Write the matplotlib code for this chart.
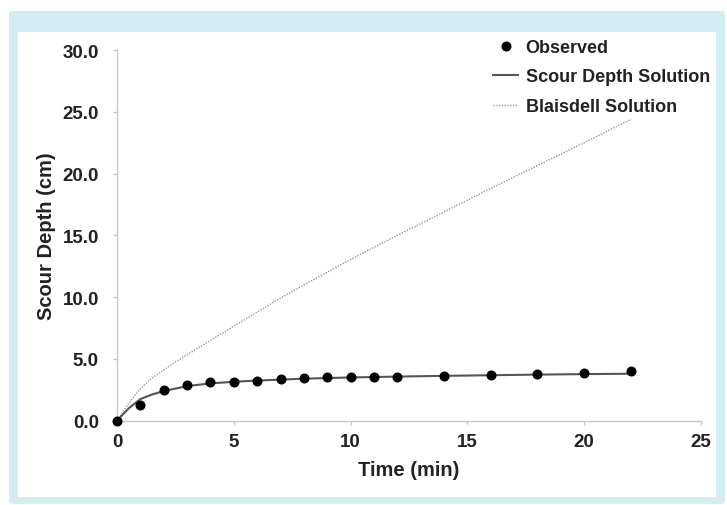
import matplotlib
matplotlib.use("Agg")
import matplotlib.pyplot as plt
from matplotlib.patches import FancyBboxPatch, Rectangle

# observed scour depth (cm) against time (min)
obs_time = [0, 1, 2, 3, 4, 5, 6, 7, 8, 9, 10, 11, 12, 14, 16, 18, 20, 22]
obs_depth = [0.0, 1.28, 2.45, 2.88, 3.12, 3.17, 3.25, 3.38, 3.45, 3.52,
             3.57, 3.57, 3.57, 3.65, 3.72, 3.80, 3.82, 4.05]

# scour depth solution
sol_time = [0, 0.5, 1, 1.5, 2, 3, 4, 5, 6, 8, 10, 12, 14, 16, 18, 20, 22]
sol_depth = [0.0, 1.0, 1.75, 2.12, 2.40, 2.80, 3.02, 3.15, 3.25, 3.40,
             3.50, 3.57, 3.63, 3.68, 3.73, 3.77, 3.80]

# Blaisdell solution
bl_time = [0, 0.5, 1, 1.5, 2.5, 4, 5.4, 6.8, 8.2, 10.3, 12, 14, 16, 18, 20, 22]
bl_depth = [0.0, 1.4, 2.6, 3.45, 4.75, 6.5, 8.1, 9.7, 11.2, 13.35, 15.0,
            16.9, 18.8, 20.65, 22.5, 24.4]

W, H = 727, 506
fig = plt.figure(figsize=(W / 100, H / 100), dpi=100)

# light blue frame around the chart
frame = FancyBboxPatch((9 / W, 1 - 505 / H), 716 / W, 493 / H,
                       boxstyle="round,pad=0,rounding_size=0.006",
                       transform=fig.transFigure, facecolor="#d4edf2",
                       edgecolor="none", zorder=-2)
inner = Rectangle((18 / W, 1 - 498 / H), 698 / W, 465 / H,
                  transform=fig.transFigure, facecolor="white",
                  edgecolor="none", zorder=-1)
fig.patches.extend([frame, inner])

x0, x1 = 117, 701
y0, y1 = 421.7, 51
ax = fig.add_axes([x0 / W, 1 - y0 / H, (x1 - x0) / W, (y0 - y1) / H])
ax.set_facecolor("none")

ax.plot(bl_time, bl_depth, color="#999999", lw=1.0, ls=(0, (1, 1)),
        label="Blaisdell Solution", zorder=2)
ax.plot(sol_time, sol_depth, color="#555555", lw=1.5,
        label="Scour Depth Solution", zorder=3)
ax.plot(obs_time, obs_depth, "o", color="black", ms=6.2,
        label="Observed", zorder=4, clip_on=False)

ax.set_xlim(0, 25)
ax.set_ylim(0, 30)
ax.set_xticks([0, 5, 10, 15, 20, 25])
ax.set_yticks([0, 5, 10, 15, 20, 25, 30])
ax.set_yticklabels([f"{v:.1f}" for v in ax.get_yticks()])

for s in ["top", "right"]:
    ax.spines[s].set_visible(False)
for s in ["left", "bottom"]:
    ax.spines[s].set_color("#c8c8c8")
    ax.spines[s].set_linewidth(1.0)

ax.tick_params(axis="both", direction="out", length=3, width=1,
               color="#c8c8c8", labelcolor="#222222", labelsize=13.5)
ax.tick_params(axis="y", pad=10)
ax.tick_params(axis="x", pad=6)
for lab in ax.get_xticklabels() + ax.get_yticklabels():
    lab.set_fontfamily("Liberation Sans")
    lab.set_fontweight("bold")

ax.set_xlabel("Time (min)", fontsize=14.5, fontweight="bold",
              family="Liberation Sans", color="#222222")
ax.set_ylabel("Scour Depth (cm)", fontsize=14.5, fontweight="bold",
              family="Liberation Sans", color="#222222")
ax.xaxis.set_label_coords(0.5, -0.105)
ax.yaxis.set_label_coords(-0.105, 0.5)

handles, labels = ax.get_legend_handles_labels()
order = [2, 1, 0]
leg = ax.legend([handles[i] for i in order], [labels[i] for i in order],
                loc="upper left", bbox_to_anchor=(493 / W, 1 - 40 / H),
                bbox_transform=fig.transFigure, frameon=False,
                borderpad=0, borderaxespad=0, handlelength=1.4,
                handletextpad=0.4, labelspacing=0.69,
                prop={"family": "Liberation Sans", "weight": "bold",
                      "size": 13})
for t in leg.get_texts():
    t.set_color("#222222")

fig.savefig("out.png", dpi=100)
